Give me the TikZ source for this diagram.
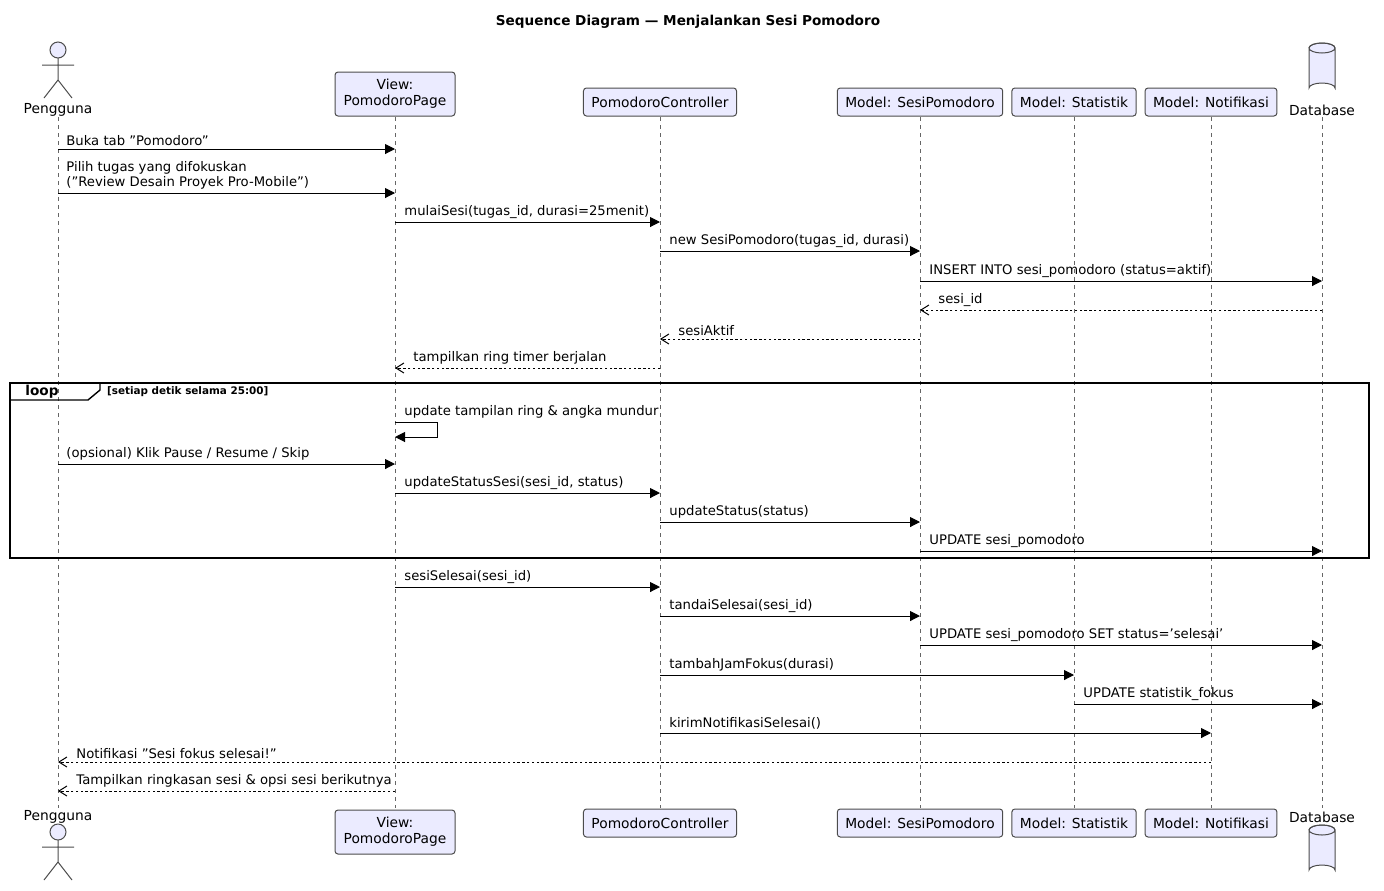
\documentclass[tikz,border=0pt]{standalone}
\usepackage{fontspec}
\setmainfont{DejaVu Sans}
\usetikzlibrary{shapes.geometric,arrows.meta}
\newcommand\qq{\char34\relax}
\newcommand\qs{\char39\relax}
\begin{document}
\begin{tikzpicture}[x=0.5pt,y=-0.5pt,
  box/.style={draw=black!70,fill=blue!8!white,rounded corners=1.5pt,inner xsep=4pt,inner ysep=2pt,minimum height=14pt,font=\fontsize{6.9}{8}\selectfont,align=center,line width=0.5pt},
  life/.style={draw=black!60,dashed,dash pattern=on 2pt off 2pt,line width=0.4pt},
  msg/.style={-{Triangle[length=5pt,width=5pt]},line width=0.5pt},
  ret/.style={-{Straight Barb[length=4pt,width=5pt]},line width=0.5pt,dash pattern=on 1.2pt off 1.2pt},
  lbl/.style={font=\fontsize{6.6}{7.7}\selectfont,anchor=south west,inner sep=0.5pt,align=left}]
\useasboundingbox (0,0) rectangle (1384,890);
\node[font=\bfseries\fontsize{6.8}{7.8}\selectfont] (title) at (688,22) {Sequence Diagram — Menjalankan Sesi Pomodoro};
\foreach \x in {58,395,660,920,1074,1211,1322} \draw[life] (\x,117) -- (\x,808);
\newcommand\actor[2]{%
  \draw[fill=blue!8!white,draw=black!70,line width=0.5pt] (#1,#2) circle[radius=8];
  \draw[black!70,line width=0.5pt] (#1,#2+8) -- (#1,#2+30) (#1-16,#2+15)--(#1+16,#2+15) (#1,#2+30)--(#1-14,#2+48) (#1,#2+30)--(#1+14,#2+48);}
\newcommand\dbase[2]{%
  \draw[fill=blue!8!white,draw=black!70,line width=0.5pt] (#1-13,#2) -- (#1-13,#2+40) arc[start angle=180,end angle=360,x radius=13,y radius=5] -- (#1+13,#2) arc[start angle=0,end angle=-180,x radius=13,y radius=5] arc[start angle=180,end angle=0,x radius=13,y radius=5];
  \draw[black!70,line width=0.5pt] (#1-13,#2) arc[start angle=180,end angle=360,x radius=13,y radius=5];}
\actor{58}{50}
\node[font=\fontsize{6.9}{8}\selectfont] (pt) at (58,110) {Pengguna};
\actor{58}{832}
\node[font=\fontsize{6.9}{8}\selectfont] (pb) at (58,817) {Pengguna};
\dbase{1322}{48}
\node[font=\fontsize{6.9}{8}\selectfont] (dt) at (1322,110) {Database};
\dbase{1322}{830}
\node[font=\fontsize{6.9}{8}\selectfont] (db) at (1322,817) {Database};
\foreach \n/\y in {t/94,b/832}{
  \node[box,minimum width=60pt,minimum height=22pt] (v\n) at (395,\y) {View:\\PomodoroPage};
}
\foreach \n/\y in {t/102,b/823}{
  \node[box] (c\n) at (660,\y) {PomodoroController};
  \node[box] (s\n) at (920,\y) {Model: SesiPomodoro};
  \node[box] (st\n) at (1074,\y) {Model: Statistik};
  \node[box] (n\n) at (1211,\y) {Model: Notifikasi};
}
\newcommand\m[6]{%
  \coordinate (a) at (#2,#4); \coordinate (b) at (#3,#4);
  \draw[#1] (a) -- (b);
  \node[lbl] at (#6,#4-2) {#5};}
\m{msg}{58}{395}{149}{Buka tab \qq Pomodoro\qq}{65}
\m{msg}{58}{395}{193}{Pilih tugas yang difokuskan\\(\qq Review Desain Proyek Pro-Mobile\qq)}{65}
\m{msg}{395}{660}{222}{mulaiSesi(tugas\_id, durasi=25menit)}{403}
\m{msg}{660}{920}{251}{new SesiPomodoro(tugas\_id, durasi)}{668}
\m{msg}{920}{1322}{281}{INSERT INTO sesi\_pomodoro (status=aktif)}{928}
\m{ret}{1322}{920}{310}{sesi\_id}{937}
\m{ret}{920}{660}{339}{sesiAktif}{677}
\m{ret}{660}{395}{368}{tampilkan ring timer berjalan}{412}
\draw[line width=1pt] (10,383) rectangle (1369,558);
\draw[line width=0.7pt] (10,400) -- (88,400) -- (100,390) -- (100,383);
\node[font=\bfseries\fontsize{6.8}{7.8}\selectfont] (lp) at (42,392) {loop};
\node[font=\bfseries\fontsize{5.2}{6}\selectfont,anchor=west] (lc) at (100,392) {[setiap detik selama 25:00]};
\coordinate (s1) at (395,422); \coordinate (s2) at (437,422); \coordinate (s3) at (437,437); \coordinate (s4) at (395,437);
\draw[msg] (s1) -- (s2) -- (s3) -- (s4);
\node[lbl] at (403,420) {update tampilan ring \& angka mundur};
\m{msg}{58}{395}{464}{(opsional) Klik Pause / Resume / Skip}{65}
\m{msg}{395}{660}{493}{updateStatusSesi(sesi\_id, status)}{403}
\m{msg}{660}{920}{522}{updateStatus(status)}{668}
\m{msg}{920}{1322}{551}{UPDATE sesi\_pomodoro}{928}
\m{msg}{395}{660}{587}{sesiSelesai(sesi\_id)}{403}
\m{msg}{660}{920}{616}{tandaiSelesai(sesi\_id)}{668}
\m{msg}{920}{1322}{645}{UPDATE sesi\_pomodoro SET status=\qs selesai\qs}{928}
\m{msg}{660}{1074}{675}{tambahJamFokus(durasi)}{668}
\m{msg}{1074}{1322}{704}{UPDATE statistik\_fokus}{1082}
\m{msg}{660}{1211}{733}{kirimNotifikasiSelesai()}{668}
\m{ret}{1211}{58}{762}{Notifikasi \qq Sesi fokus selesai!\qq}{75}
\m{ret}{395}{58}{791}{Tampilkan ringkasan sesi \& opsi sesi berikutnya}{75}
\end{tikzpicture}
\end{document}
